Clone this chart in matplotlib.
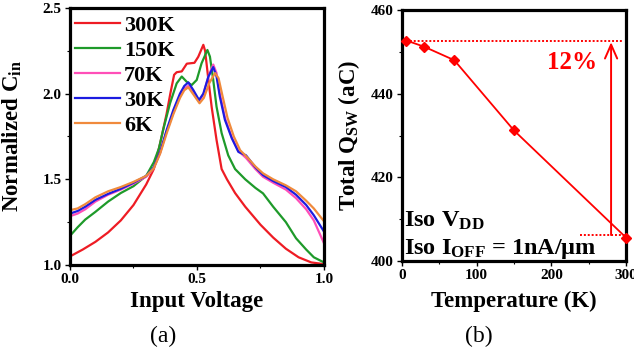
import matplotlib
matplotlib.use("Agg")
import matplotlib.pyplot as plt
from matplotlib.ticker import MultipleLocator

plt.rcParams['font.family'] = ['Liberation Serif', 'DejaVu Serif']
plt.rcParams['font.weight'] = 'bold'
plt.rcParams['mathtext.fontset'] = 'custom'
plt.rcParams['mathtext.rm'] = 'Liberation Serif:bold'
plt.rcParams['mathtext.bf'] = 'Liberation Serif:bold'
plt.rcParams['mathtext.it'] = 'Liberation Serif:bold'

# (a) normalized input capacitance vs input voltage
v300 = [0.00, 0.05, 0.10, 0.15, 0.20, 0.25, 0.30, 0.33, 0.355, 0.38, 0.395, 0.41, 0.42, 0.44, 0.46,
        0.49, 0.505, 0.525, 0.532, 0.545, 0.558, 0.577, 0.597, 0.618, 0.65, 0.69, 0.75, 0.80, 0.85,
        0.90, 0.95, 1.00]
c300 = [1.05, 1.09, 1.135, 1.19, 1.26, 1.35, 1.47, 1.56, 1.71, 1.88, 2.00, 2.11, 2.125, 2.13, 2.175,
        2.18, 2.215, 2.285, 2.25, 2.08, 1.92, 1.73, 1.56, 1.50, 1.42, 1.34, 1.235, 1.16, 1.095,
        1.045, 1.015, 1.005]

v150 = [0.00, 0.03, 0.06, 0.10, 0.15, 0.20, 0.25, 0.30, 0.33, 0.35, 0.367, 0.394, 0.42, 0.44, 0.459,
        0.479, 0.499, 0.518, 0.541, 0.551, 0.564, 0.577, 0.597, 0.623, 0.65, 0.69, 0.73, 0.76, 0.80,
        0.85, 0.89, 0.93, 0.96, 1.00]
c150 = [1.17, 1.22, 1.265, 1.31, 1.37, 1.42, 1.46, 1.52, 1.60, 1.68, 1.79, 1.944, 2.06, 2.10, 2.07,
        2.05, 2.08, 2.177, 2.255, 2.216, 2.08, 1.924, 1.77, 1.64, 1.56, 1.50, 1.45, 1.418, 1.34,
        1.25, 1.156, 1.09, 1.045, 1.015]

v70 = [0.00, 0.03, 0.06, 0.10, 0.15, 0.20, 0.25, 0.30, 0.33, 0.355, 0.381, 0.407, 0.433, 0.45, 0.466,
       0.486, 0.508, 0.525, 0.545, 0.564, 0.577, 0.59, 0.61, 0.637, 0.663, 0.693, 0.73, 0.76, 0.80,
       0.85, 0.89, 0.93, 0.96, 1.00]
c70 = [1.285, 1.30, 1.325, 1.37, 1.41, 1.44, 1.475, 1.515, 1.565, 1.655, 1.78, 1.89, 1.985, 2.03, 2.045,
       2.005, 1.955, 1.995, 2.10, 2.17, 2.12, 2.00, 1.86, 1.745, 1.665, 1.625, 1.56, 1.515, 1.48,
       1.44, 1.39, 1.325, 1.26, 1.127]

v30 = [0.00, 0.03, 0.06, 0.10, 0.15, 0.20, 0.25, 0.30, 0.33, 0.355, 0.381, 0.407, 0.433, 0.45, 0.466,
       0.486, 0.508, 0.525, 0.545, 0.564, 0.577, 0.59, 0.61, 0.637, 0.663, 0.693, 0.73, 0.76, 0.80,
       0.85, 0.89, 0.93, 0.96, 1.00]
c30 = [1.30, 1.315, 1.34, 1.38, 1.415, 1.445, 1.48, 1.52, 1.57, 1.66, 1.79, 1.905, 2.00, 2.045, 2.066,
       2.02, 1.963, 2.00, 2.10, 2.155, 2.10, 1.983, 1.847, 1.74, 1.66, 1.64, 1.57, 1.525, 1.49,
       1.455, 1.41, 1.35, 1.29, 1.195]

v6 = [0.00, 0.03, 0.06, 0.10, 0.15, 0.20, 0.25, 0.30, 0.33, 0.355, 0.381, 0.407, 0.433, 0.45, 0.466,
      0.486, 0.51, 0.527, 0.548, 0.571, 0.585, 0.60, 0.62, 0.645, 0.67, 0.70, 0.73, 0.76, 0.80,
      0.85, 0.89, 0.93, 0.96, 1.00]
c6 = [1.32, 1.33, 1.355, 1.395, 1.43, 1.455, 1.485, 1.52, 1.565, 1.65, 1.77, 1.88, 1.975, 2.02, 2.037,
      1.995, 1.944, 1.975, 2.06, 2.12, 2.09, 1.99, 1.86, 1.75, 1.67, 1.625, 1.575, 1.535, 1.50,
      1.465, 1.43, 1.375, 1.33, 1.255]

# (b) total switching charge vs temperature
temps = [6, 30, 70, 150, 300]
qsw = [452.7, 451.2, 448.0, 431.2, 405.6]

fig = plt.figure(figsize=(6.34, 3.52), dpi=100)
ax1 = fig.add_axes([0.1104, 0.2472, 0.4006, 0.7301])
ax2 = fig.add_axes([0.6341, 0.2585, 0.3533, 0.7131])

curves = [(v300, c300, '#ee1c24', '300K'),
          (v150, c150, '#1e9a2a', '150K'),
          (v70, c70, '#ff4fb8', '70K'),
          (v30, c30, '#1c1ce0', '30K'),
          (v6, c6, '#f08a3c', '6K')]
for v, c, col, lab in curves:
    ax1.plot(v, c, color=col, lw=1.6, label=lab)

ax1.set_xlim(0, 1.0)
ax1.set_ylim(1.0, 2.5)
ax1.xaxis.set_major_locator(MultipleLocator(0.5))
ax1.xaxis.set_minor_locator(MultipleLocator(0.25))
ax1.yaxis.set_major_locator(MultipleLocator(0.5))
ax1.yaxis.set_minor_locator(MultipleLocator(0.25))
ax1.set_xlabel('Input Voltage', fontsize=16.5, fontweight='bold')
ax1.set_ylabel('Normalized C$_{\\mathregular{in}}$', fontsize=16.5, fontweight='bold')
ax1.xaxis.set_label_coords(0.5, -0.1)
ax1.yaxis.set_label_coords(-0.18, 0.5)
ax1.legend(loc='upper left', bbox_to_anchor=(0.02, 0.97), frameon=False, fontsize=16,
           handlelength=2.0, handletextpad=0.2, labelspacing=0.2, borderpad=0, borderaxespad=0)

ax2.plot(temps, qsw, color='#ff0000', lw=1.3, marker='D', markersize=5.5, clip_on=False, zorder=5)
ax2.plot([temps[0], 294], [qsw[0], qsw[0]], color='#ff0000', lw=1.4, ls=(0, (1, 1)))
ax2.plot([238, 300], [qsw[-1] + 0.6, qsw[-1] + 0.6], color='#ff0000', lw=1.4, ls=(0, (1, 1)),
         clip_on=False)
ax2.annotate('', xy=(280, qsw[0] - 0.4), xytext=(280, qsw[-1] + 0.6),
             arrowprops=dict(arrowstyle='->,head_length=0.5,head_width=0.22', color='#ff0000',
                             lw=1.4, shrinkA=0, shrinkB=0, mutation_scale=20))
ax2.text(228, 447.4, '12%', color='#ff0000', fontsize=18, fontweight='bold', ha='center', va='center')
ax2.text(3, 408.3, 'Iso V$_{\\mathregular{DD}}$', fontsize=17.5, fontweight='bold', ha='left',
         va='baseline')
ax2.text(3, 401.6, 'Iso I$_{\\mathregular{OFF}}$ = 1nA/\u03bcm', fontsize=17.5, fontweight='bold',
         ha='left', va='baseline')

ax2.set_xlim(0, 300)
ax2.set_ylim(400, 460)
ax2.xaxis.set_major_locator(MultipleLocator(100))
ax2.xaxis.set_minor_locator(MultipleLocator(50))
ax2.yaxis.set_major_locator(MultipleLocator(20))
ax2.yaxis.set_minor_locator(MultipleLocator(10))
ax2.set_xlabel('Temperature (K)', fontsize=16.5, fontweight='bold')
ax2.set_ylabel('Total Q$_{\\mathregular{SW}}$ (aC)', fontsize=16.5, fontweight='bold')
ax2.xaxis.set_label_coords(0.5, -0.12)
ax2.yaxis.set_label_coords(-0.18, 0.5)

for ax in (ax1, ax2):
    for s in ax.spines.values():
        s.set_linewidth(2.3)
    ax.tick_params(which='major', direction='out', length=3.5, width=1.0, labelsize=11, pad=2.5)
    ax.tick_params(which='minor', direction='out', length=2.0, width=0.8)
    for lbl in ax.get_xticklabels() + ax.get_yticklabels():
        lbl.set_fontweight('bold')

fig.text(0.257, 0.043, '(a)', fontsize=17, fontweight='normal', ha='center', va='center')
fig.text(0.7555, 0.043, '(b)', fontsize=17, fontweight='normal', ha='center', va='center')

fig.savefig('out.png', dpi=100)
